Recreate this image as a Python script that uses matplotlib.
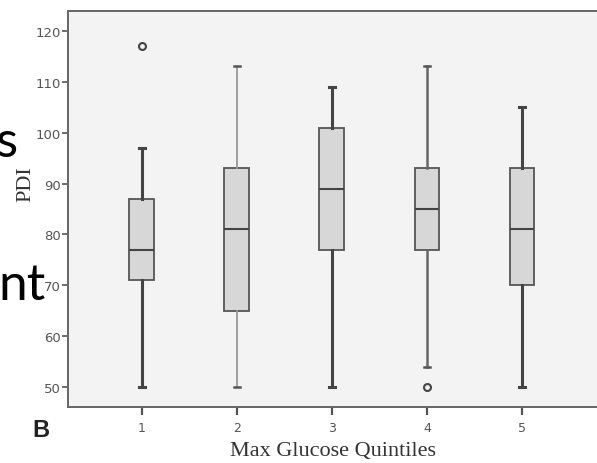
import matplotlib
matplotlib.use('Agg')
import matplotlib.pyplot as plt

# box stats (PDI by max glucose quintile)
quintiles = [1, 2, 3, 4, 5]
whisker_low = [50, 50, 50, 54, 50]
q1 = [71, 65, 77, 77, 70]
medians = [77, 81, 89, 85, 81]
q3 = [87, 93, 101, 93, 93]
whisker_high = [97, 113, 109, 113, 105]
outliers = [[117], [], [], [50], []]
y_ticks = [50, 60, 70, 80, 90, 100, 110, 120]

stats = []
for i, q in enumerate(quintiles):
    stats.append({
        'label': str(q),
        'whislo': whisker_low[i],
        'q1': q1[i],
        'med': medians[i],
        'q3': q3[i],
        'whishi': whisker_high[i],
        'fliers': outliers[i],
    })

fig = plt.figure(figsize=(5.97, 4.64), dpi=100)
ax = fig.add_axes([68 / 597, 56 / 464, 1 - 68 / 597, 396 / 464])
ax.set_facecolor('#f3f3f3')

bp = ax.bxp(stats, positions=quintiles, widths=0.26, patch_artist=True,
            boxprops=dict(facecolor='#d7d7d7', edgecolor='#555555', linewidth=1.3),
            medianprops=dict(color='#444444', linewidth=1.5),
            whiskerprops=dict(color='#444444', linewidth=2.2),
            capprops=dict(color='#444444', linewidth=2.2),
            flierprops=dict(marker='o', markersize=5, markerfacecolor='none',
                            markeredgecolor='#444444', markeredgewidth=1.5),
            capwidths=0.06)

# whiskers are not drawn equally heavy in the original
for w in bp['whiskers'][2:4]:
    w.set_color('#999999')
    w.set_linewidth(1.3)
for w in bp['whiskers'][6:8]:
    w.set_color('#666666')
    w.set_linewidth(1.8)
for c in bp['caps'][2:4] + bp['caps'][6:8]:
    c.set_color('#555555')
    c.set_linewidth(1.8)

ax.set_xlim(1 - 73.7 / 95.1, 5 + 75 / 95.1)
ax.set_ylim(46.1, 123.9)
ax.set_yticks(y_ticks)
ax.set_xticks(quintiles)
ax.set_xticklabels([str(q) for q in quintiles])

ax.spines['right'].set_visible(False)
for s in ['left', 'top', 'bottom']:
    ax.spines[s].set_color('#666666')
    ax.spines[s].set_linewidth(1.4)

ax.tick_params(axis='y', direction='out', length=4, width=1.2, color='#555555',
               labelsize=9.5, labelcolor='#555555', pad=1)
ax.tick_params(axis='x', direction='out', length=6, width=1.6, color='#555555',
               labelsize=9, labelcolor='#555555', pad=4)

ax.set_xlabel('Max Glucose Quintiles', family='Liberation Serif', fontsize=16,
              color='#333333', labelpad=5)
ax.set_ylabel('PDI', family='Liberation Serif', fontsize=16, color='#333333')
ax.yaxis.set_label_coords(-0.062, 0.566)

fig.text(32 / 597, 1 - 437 / 464, 'B', fontsize=17, fontweight='bold',
         family='Liberation Sans', color='#222222', va='baseline')

# slide text fragments overlapping the figure
fig.text(17 / 597, 1 - 157 / 464, 's', fontsize=37, family='Lato',
         color='black', ha='right', va='baseline')
fig.text(46 / 597, 1 - 300 / 464, 'nt', fontsize=37, family='Lato',
         color='black', ha='right', va='baseline')

fig.savefig('out.png', dpi=100)
